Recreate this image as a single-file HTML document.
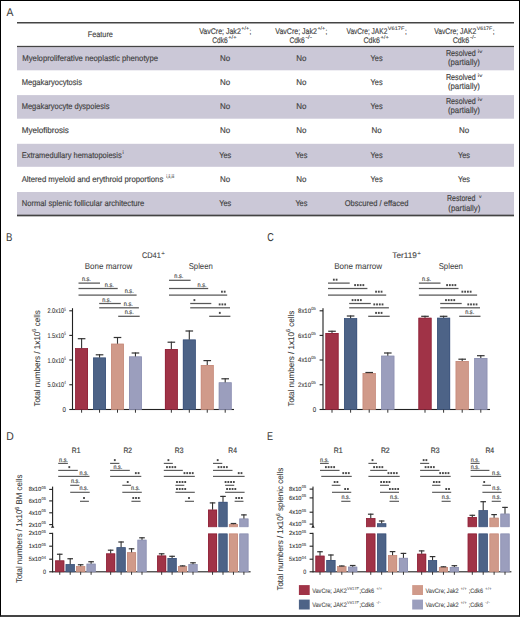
<!DOCTYPE html><html><head><meta charset="utf-8"><style>html,body{margin:0;padding:0;background:#fff;}body{width:520px;height:617px;position:relative;overflow:hidden;}</style></head><body><svg width="520" height="617" viewBox="0 0 520 617" style="position:absolute;left:0;top:0;font-family:'Liberation Sans', sans-serif;text-rendering:geometricPrecision">
<rect x="0.00" y="0.00" width="520.00" height="617.00" fill="#ffffff"/>
<text x="6.50" y="16.00" font-size="11.4" fill="#3a3a3a" stroke="#3a3a3a" stroke-width="0.05" textLength="6.9" lengthAdjust="spacingAndGlyphs">A</text>
<rect x="17.00" y="47.20" width="497.00" height="23.10" fill="#cbc8d7"/>
<rect x="17.00" y="95.10" width="497.00" height="23.60" fill="#cbc8d7"/>
<rect x="17.00" y="143.80" width="497.00" height="23.00" fill="#cbc8d7"/>
<rect x="17.00" y="192.00" width="497.00" height="23.00" fill="#cbc8d7"/>
<rect x="17.00" y="22.00" width="497.00" height="1.50" fill="#444"/>
<rect x="17.00" y="45.85" width="497.00" height="1.30" fill="#444"/>
<rect x="17.00" y="214.65" width="497.00" height="1.70" fill="#444"/>
<text x="87.80" y="36.70" font-size="8.1" fill="#424242" stroke="#424242" stroke-width="0.16" textLength="25.1" lengthAdjust="spacingAndGlyphs">Feature</text>
<text x="199.20" y="33.60" font-size="8.24" fill="#424242" stroke="#424242" stroke-width="0.16" textLength="41.6" lengthAdjust="spacingAndGlyphs">VavCre; Jak2</text>
<text x="241.30" y="30.10" font-size="5.03" fill="#424242" stroke="#424242" stroke-width="0.096" textLength="7.7" lengthAdjust="spacingAndGlyphs">+/+</text>
<text x="249.50" y="33.60" font-size="8.0" fill="#424242" stroke="#424242" stroke-width="0.16" textLength="1.8" lengthAdjust="spacingAndGlyphs">;</text>
<text x="212.30" y="42.90" font-size="8.24" fill="#424242" stroke="#424242" stroke-width="0.16" textLength="15.4" lengthAdjust="spacingAndGlyphs">Cdk6</text>
<text x="228.30" y="39.40" font-size="5.03" fill="#424242" stroke="#424242" stroke-width="0.096" textLength="8.2" lengthAdjust="spacingAndGlyphs">+/+</text>
<text x="275.30" y="33.60" font-size="8.24" fill="#424242" stroke="#424242" stroke-width="0.16" textLength="41.6" lengthAdjust="spacingAndGlyphs">VavCre; Jak2</text>
<text x="317.40" y="30.10" font-size="5.03" fill="#424242" stroke="#424242" stroke-width="0.096" textLength="7.7" lengthAdjust="spacingAndGlyphs">+/+</text>
<text x="325.60" y="33.60" font-size="8.0" fill="#424242" stroke="#424242" stroke-width="0.16" textLength="1.8" lengthAdjust="spacingAndGlyphs">;</text>
<text x="289.40" y="42.90" font-size="8.24" fill="#424242" stroke="#424242" stroke-width="0.16" textLength="15.4" lengthAdjust="spacingAndGlyphs">Cdk6</text>
<text x="305.40" y="39.40" font-size="5.03" fill="#424242" stroke="#424242" stroke-width="0.096" textLength="6.6" lengthAdjust="spacingAndGlyphs">-/-</text>
<text x="346.50" y="33.60" font-size="8.24" fill="#424242" stroke="#424242" stroke-width="0.16" textLength="40.8" lengthAdjust="spacingAndGlyphs">VavCre; JAK2</text>
<text x="387.80" y="30.10" font-size="5.03" fill="#424242" stroke="#424242" stroke-width="0.096" textLength="16.6" lengthAdjust="spacingAndGlyphs">V617F</text>
<text x="404.90" y="33.60" font-size="8.0" fill="#424242" stroke="#424242" stroke-width="0.16" textLength="1.8" lengthAdjust="spacingAndGlyphs">;</text>
<text x="363.50" y="42.90" font-size="8.24" fill="#424242" stroke="#424242" stroke-width="0.16" textLength="16.4" lengthAdjust="spacingAndGlyphs">Cdk6</text>
<text x="380.50" y="39.40" font-size="5.03" fill="#424242" stroke="#424242" stroke-width="0.096" textLength="8.2" lengthAdjust="spacingAndGlyphs">+/+</text>
<text x="434.20" y="33.60" font-size="8.24" fill="#424242" stroke="#424242" stroke-width="0.16" textLength="42.0" lengthAdjust="spacingAndGlyphs">VavCre; JAK2</text>
<text x="476.70" y="30.10" font-size="5.03" fill="#424242" stroke="#424242" stroke-width="0.096" textLength="15.6" lengthAdjust="spacingAndGlyphs">V617F</text>
<text x="492.80" y="33.60" font-size="8.0" fill="#424242" stroke="#424242" stroke-width="0.16" textLength="1.8" lengthAdjust="spacingAndGlyphs">;</text>
<text x="452.70" y="42.90" font-size="8.24" fill="#424242" stroke="#424242" stroke-width="0.16" textLength="16.6" lengthAdjust="spacingAndGlyphs">Cdk6</text>
<text x="469.90" y="39.40" font-size="5.03" fill="#424242" stroke="#424242" stroke-width="0.096" textLength="5.8" lengthAdjust="spacingAndGlyphs">-/-</text>
<text x="22.30" y="60.90" font-size="8.3" fill="#424242" stroke="#424242" stroke-width="0.16" textLength="135.7" lengthAdjust="spacingAndGlyphs">Myeloproliferative neoplastic phenotype</text>
<text x="225.20" y="60.90" font-size="8.3" fill="#424242" stroke="#424242" stroke-width="0.16" text-anchor="middle" textLength="10.2" lengthAdjust="spacingAndGlyphs">No</text>
<text x="301.40" y="60.90" font-size="8.3" fill="#424242" stroke="#424242" stroke-width="0.16" text-anchor="middle" textLength="10.2" lengthAdjust="spacingAndGlyphs">No</text>
<text x="376.60" y="60.90" font-size="8.3" fill="#424242" stroke="#424242" stroke-width="0.16" text-anchor="middle" textLength="12" lengthAdjust="spacingAndGlyphs">Yes</text>
<text x="445.90" y="55.90" font-size="8.6" fill="#424242" stroke="#424242" stroke-width="0.16" textLength="29.9" lengthAdjust="spacingAndGlyphs">Resolved</text>
<text x="477.80" y="52.70" font-size="4.8" fill="#444" stroke="#444" stroke-width="0.1" textLength="4.5" lengthAdjust="spacingAndGlyphs">iv</text>
<text x="447.90" y="65.10" font-size="8.6" fill="#424242" stroke="#424242" stroke-width="0.16" textLength="32" lengthAdjust="spacingAndGlyphs">(partially)</text>
<text x="21.70" y="85.10" font-size="8.3" fill="#424242" stroke="#424242" stroke-width="0.16" textLength="60.3" lengthAdjust="spacingAndGlyphs">Megakaryocytosis</text>
<text x="225.20" y="85.10" font-size="8.3" fill="#424242" stroke="#424242" stroke-width="0.16" text-anchor="middle" textLength="10.2" lengthAdjust="spacingAndGlyphs">No</text>
<text x="301.40" y="85.10" font-size="8.3" fill="#424242" stroke="#424242" stroke-width="0.16" text-anchor="middle" textLength="10.2" lengthAdjust="spacingAndGlyphs">No</text>
<text x="376.60" y="85.10" font-size="8.3" fill="#424242" stroke="#424242" stroke-width="0.16" text-anchor="middle" textLength="12" lengthAdjust="spacingAndGlyphs">Yes</text>
<text x="445.90" y="80.10" font-size="8.6" fill="#424242" stroke="#424242" stroke-width="0.16" textLength="29.9" lengthAdjust="spacingAndGlyphs">Resolved</text>
<text x="477.80" y="76.90" font-size="4.8" fill="#444" stroke="#444" stroke-width="0.1" textLength="4.5" lengthAdjust="spacingAndGlyphs">iv</text>
<text x="447.90" y="89.30" font-size="8.6" fill="#424242" stroke="#424242" stroke-width="0.16" textLength="32" lengthAdjust="spacingAndGlyphs">(partially)</text>
<text x="21.70" y="109.20" font-size="8.3" fill="#424242" stroke="#424242" stroke-width="0.16" textLength="87.7" lengthAdjust="spacingAndGlyphs">Megakaryocyte dyspoiesis</text>
<text x="225.20" y="109.20" font-size="8.3" fill="#424242" stroke="#424242" stroke-width="0.16" text-anchor="middle" textLength="10.2" lengthAdjust="spacingAndGlyphs">No</text>
<text x="301.40" y="109.20" font-size="8.3" fill="#424242" stroke="#424242" stroke-width="0.16" text-anchor="middle" textLength="10.2" lengthAdjust="spacingAndGlyphs">No</text>
<text x="376.60" y="109.20" font-size="8.3" fill="#424242" stroke="#424242" stroke-width="0.16" text-anchor="middle" textLength="12" lengthAdjust="spacingAndGlyphs">Yes</text>
<text x="445.90" y="104.20" font-size="8.6" fill="#424242" stroke="#424242" stroke-width="0.16" textLength="29.9" lengthAdjust="spacingAndGlyphs">Resolved</text>
<text x="477.80" y="101.00" font-size="4.8" fill="#444" stroke="#444" stroke-width="0.1" textLength="4.5" lengthAdjust="spacingAndGlyphs">iv</text>
<text x="447.90" y="113.40" font-size="8.6" fill="#424242" stroke="#424242" stroke-width="0.16" textLength="32" lengthAdjust="spacingAndGlyphs">(partially)</text>
<text x="21.70" y="133.20" font-size="8.3" fill="#424242" stroke="#424242" stroke-width="0.16" textLength="47.1" lengthAdjust="spacingAndGlyphs">Myelofibrosis</text>
<text x="225.20" y="133.20" font-size="8.3" fill="#424242" stroke="#424242" stroke-width="0.16" text-anchor="middle" textLength="10.2" lengthAdjust="spacingAndGlyphs">No</text>
<text x="301.40" y="133.20" font-size="8.3" fill="#424242" stroke="#424242" stroke-width="0.16" text-anchor="middle" textLength="10.2" lengthAdjust="spacingAndGlyphs">No</text>
<text x="376.60" y="133.20" font-size="8.3" fill="#424242" stroke="#424242" stroke-width="0.16" text-anchor="middle" textLength="10.2" lengthAdjust="spacingAndGlyphs">No</text>
<text x="464.00" y="133.20" font-size="8.3" fill="#424242" stroke="#424242" stroke-width="0.16" text-anchor="middle" textLength="10.2" lengthAdjust="spacingAndGlyphs">No</text>
<text x="21.70" y="157.50" font-size="8.3" fill="#424242" stroke="#424242" stroke-width="0.16" textLength="100" lengthAdjust="spacingAndGlyphs">Extramedullary hematopoiesis</text>
<text x="122.40" y="153.90" font-size="4.8" fill="#444" stroke="#444" stroke-width="0.1" textLength="1.2" lengthAdjust="spacingAndGlyphs">i</text>
<text x="225.20" y="157.50" font-size="8.3" fill="#424242" stroke="#424242" stroke-width="0.16" text-anchor="middle" textLength="12" lengthAdjust="spacingAndGlyphs">Yes</text>
<text x="301.40" y="157.50" font-size="8.3" fill="#424242" stroke="#424242" stroke-width="0.16" text-anchor="middle" textLength="12" lengthAdjust="spacingAndGlyphs">Yes</text>
<text x="376.60" y="157.50" font-size="8.3" fill="#424242" stroke="#424242" stroke-width="0.16" text-anchor="middle" textLength="12" lengthAdjust="spacingAndGlyphs">Yes</text>
<text x="464.00" y="157.50" font-size="8.3" fill="#424242" stroke="#424242" stroke-width="0.16" text-anchor="middle" textLength="12" lengthAdjust="spacingAndGlyphs">Yes</text>
<text x="21.70" y="181.90" font-size="8.3" fill="#424242" stroke="#424242" stroke-width="0.16" textLength="141.6" lengthAdjust="spacingAndGlyphs">Altered myeloid and erythroid proportions</text>
<text x="166.30" y="178.00" font-size="4.8" fill="#444" stroke="#444" stroke-width="0.1" textLength="8.0" lengthAdjust="spacingAndGlyphs">i,ii,iii</text>
<text x="225.20" y="181.90" font-size="8.3" fill="#424242" stroke="#424242" stroke-width="0.16" text-anchor="middle" textLength="10.2" lengthAdjust="spacingAndGlyphs">No</text>
<text x="301.40" y="181.90" font-size="8.3" fill="#424242" stroke="#424242" stroke-width="0.16" text-anchor="middle" textLength="10.2" lengthAdjust="spacingAndGlyphs">No</text>
<text x="376.60" y="181.90" font-size="8.3" fill="#424242" stroke="#424242" stroke-width="0.16" text-anchor="middle" textLength="12" lengthAdjust="spacingAndGlyphs">Yes</text>
<text x="464.00" y="181.90" font-size="8.3" fill="#424242" stroke="#424242" stroke-width="0.16" text-anchor="middle" textLength="12" lengthAdjust="spacingAndGlyphs">Yes</text>
<text x="21.70" y="205.80" font-size="8.3" fill="#424242" stroke="#424242" stroke-width="0.16" textLength="122.6" lengthAdjust="spacingAndGlyphs">Normal splenic follicular architecture</text>
<text x="225.20" y="205.80" font-size="8.3" fill="#424242" stroke="#424242" stroke-width="0.16" text-anchor="middle" textLength="12" lengthAdjust="spacingAndGlyphs">Yes</text>
<text x="301.40" y="205.80" font-size="8.3" fill="#424242" stroke="#424242" stroke-width="0.16" text-anchor="middle" textLength="12" lengthAdjust="spacingAndGlyphs">Yes</text>
<text x="344.70" y="205.80" font-size="8.3" fill="#424242" stroke="#424242" stroke-width="0.16" textLength="63.7" lengthAdjust="spacingAndGlyphs">Obscured / effaced</text>
<text x="447.00" y="201.30" font-size="8.6" fill="#424242" stroke="#424242" stroke-width="0.16" textLength="28.4" lengthAdjust="spacingAndGlyphs">Restored</text>
<text x="478.90" y="198.10" font-size="4.8" fill="#444" stroke="#444" stroke-width="0.1" textLength="2.5" lengthAdjust="spacingAndGlyphs">v</text>
<text x="448.30" y="210.50" font-size="8.6" fill="#424242" stroke="#424242" stroke-width="0.16" textLength="32" lengthAdjust="spacingAndGlyphs">(partially)</text>
<text x="6.00" y="241.20" font-size="11.4" fill="#3a3a3a" stroke="#3a3a3a" stroke-width="0.05" textLength="6.4" lengthAdjust="spacingAndGlyphs">B</text>
<text x="141.90" y="257.50" font-size="8.1" fill="#424242" stroke="#424242" stroke-width="0.1" textLength="18.9" lengthAdjust="spacingAndGlyphs">CD41</text>
<text x="161.30" y="254.50" font-size="5.45" fill="#424242" stroke="#424242" stroke-width="0.06" textLength="3.6" lengthAdjust="spacingAndGlyphs">+</text>
<text x="84.80" y="269.40" font-size="8.5" fill="#424242" stroke="#424242" stroke-width="0.05" textLength="47.5" lengthAdjust="spacingAndGlyphs">Bone marrow</text>
<text x="188.70" y="269.40" font-size="8.5" fill="#424242" stroke="#424242" stroke-width="0.05" textLength="24.1" lengthAdjust="spacingAndGlyphs">Spleen</text>
<rect x="71.95" y="308.20" width="1.10" height="101.80" fill="#222"/>
<rect x="69.30" y="310.25" width="3.20" height="1.10" fill="#222"/>
<rect x="69.30" y="334.85" width="3.20" height="1.10" fill="#222"/>
<rect x="69.30" y="359.45" width="3.20" height="1.10" fill="#222"/>
<rect x="69.30" y="384.20" width="3.20" height="1.10" fill="#222"/>
<rect x="69.30" y="408.95" width="3.20" height="1.10" fill="#222"/>
<rect x="72.50" y="408.95" width="161.50" height="1.10" fill="#222"/>
<text x="47.50" y="313.30" font-size="6.98" fill="#333" stroke="#333" stroke-width="0.1" textLength="16.5" lengthAdjust="spacingAndGlyphs">2.0x10</text>
<text x="64.20" y="310.50" font-size="4.61" fill="#333" stroke="#333" stroke-width="0.06" textLength="1.6" lengthAdjust="spacingAndGlyphs">5</text>
<text x="47.50" y="337.90" font-size="6.98" fill="#333" stroke="#333" stroke-width="0.1" textLength="16.5" lengthAdjust="spacingAndGlyphs">1.5x10</text>
<text x="64.20" y="335.10" font-size="4.61" fill="#333" stroke="#333" stroke-width="0.06" textLength="1.6" lengthAdjust="spacingAndGlyphs">5</text>
<text x="47.50" y="362.50" font-size="6.98" fill="#333" stroke="#333" stroke-width="0.1" textLength="16.5" lengthAdjust="spacingAndGlyphs">1.0x10</text>
<text x="64.20" y="359.70" font-size="4.61" fill="#333" stroke="#333" stroke-width="0.06" textLength="1.6" lengthAdjust="spacingAndGlyphs">5</text>
<text x="47.50" y="387.25" font-size="6.98" fill="#333" stroke="#333" stroke-width="0.1" textLength="16.5" lengthAdjust="spacingAndGlyphs">5.0x10</text>
<text x="64.20" y="384.45" font-size="4.61" fill="#333" stroke="#333" stroke-width="0.06" textLength="1.6" lengthAdjust="spacingAndGlyphs">4</text>
<text x="62.50" y="412.00" font-size="6.98" fill="#333" stroke="#333" stroke-width="0.1" textLength="3.4" lengthAdjust="spacingAndGlyphs">0</text>
<text transform="translate(39.6,406.6) rotate(-90)" font-size="8.4" fill="#383838" stroke="#383838" stroke-width="0.08" textLength="96.5" lengthAdjust="spacingAndGlyphs">Total numbers / 1x10<tspan font-size="5.8" dy="-3.2" stroke-width="0.06">6</tspan><tspan dy="3.2"> cells</tspan></text>
<rect x="75.20" y="348.30" width="12.80" height="61.20" fill="#a03347"/>
<rect x="75.55" y="348.65" width="12.10" height="60.85" fill="none" stroke="#8e2238" stroke-width="0.7"/>
<rect x="81.05" y="338.20" width="1.10" height="10.10" fill="#333"/>
<rect x="77.80" y="338.10" width="7.60" height="1.20" fill="#333"/>
<rect x="81.10" y="409.50" width="1.00" height="3.20" fill="#333"/>
<rect x="93.15" y="357.60" width="12.80" height="51.90" fill="#4d6387"/>
<rect x="93.50" y="357.95" width="12.10" height="51.55" fill="none" stroke="#3d547d" stroke-width="0.7"/>
<rect x="99.00" y="354.30" width="1.10" height="3.30" fill="#333"/>
<rect x="95.75" y="354.20" width="7.60" height="1.20" fill="#333"/>
<rect x="99.05" y="409.50" width="1.00" height="3.20" fill="#333"/>
<rect x="111.10" y="343.75" width="12.80" height="65.75" fill="#d09a8a"/>
<rect x="111.45" y="344.10" width="12.10" height="65.40" fill="none" stroke="#c68b7b" stroke-width="0.7"/>
<rect x="116.95" y="337.00" width="1.10" height="6.75" fill="#333"/>
<rect x="113.70" y="336.90" width="7.60" height="1.20" fill="#333"/>
<rect x="117.00" y="409.50" width="1.00" height="3.20" fill="#333"/>
<rect x="129.05" y="356.50" width="12.80" height="53.00" fill="#9b9ebd"/>
<rect x="129.40" y="356.85" width="12.10" height="52.65" fill="none" stroke="#8c90b2" stroke-width="0.7"/>
<rect x="134.90" y="352.50" width="1.10" height="4.00" fill="#333"/>
<rect x="131.65" y="352.40" width="7.60" height="1.20" fill="#333"/>
<rect x="134.95" y="409.50" width="1.00" height="3.20" fill="#333"/>
<rect x="164.95" y="349.10" width="12.80" height="60.40" fill="#a03347"/>
<rect x="165.30" y="349.45" width="12.10" height="60.05" fill="none" stroke="#8e2238" stroke-width="0.7"/>
<rect x="170.80" y="341.70" width="1.10" height="7.40" fill="#333"/>
<rect x="167.55" y="341.60" width="7.60" height="1.20" fill="#333"/>
<rect x="170.85" y="409.50" width="1.00" height="3.20" fill="#333"/>
<rect x="182.90" y="339.60" width="12.80" height="69.90" fill="#4d6387"/>
<rect x="183.25" y="339.95" width="12.10" height="69.55" fill="none" stroke="#3d547d" stroke-width="0.7"/>
<rect x="188.75" y="330.50" width="1.10" height="9.10" fill="#333"/>
<rect x="185.50" y="330.40" width="7.60" height="1.20" fill="#333"/>
<rect x="188.80" y="409.50" width="1.00" height="3.20" fill="#333"/>
<rect x="200.85" y="365.00" width="12.80" height="44.50" fill="#d09a8a"/>
<rect x="201.20" y="365.35" width="12.10" height="44.15" fill="none" stroke="#c68b7b" stroke-width="0.7"/>
<rect x="206.70" y="360.10" width="1.10" height="4.90" fill="#333"/>
<rect x="203.45" y="360.00" width="7.60" height="1.20" fill="#333"/>
<rect x="206.75" y="409.50" width="1.00" height="3.20" fill="#333"/>
<rect x="218.80" y="382.40" width="12.80" height="27.10" fill="#9b9ebd"/>
<rect x="219.15" y="382.75" width="12.10" height="26.75" fill="none" stroke="#8c90b2" stroke-width="0.7"/>
<rect x="224.65" y="378.30" width="1.10" height="4.10" fill="#333"/>
<rect x="221.40" y="378.20" width="7.60" height="1.20" fill="#333"/>
<rect x="224.70" y="409.50" width="1.00" height="3.20" fill="#333"/>
<rect x="78.50" y="282.48" width="21.50" height="1.25" fill="#585858"/>
<text x="86.40" y="281.20" font-size="6.6" fill="#383838" stroke="#383838" stroke-width="0.14" text-anchor="middle" textLength="9" lengthAdjust="spacingAndGlyphs">n.s.</text>
<rect x="78.50" y="287.88" width="39.20" height="1.25" fill="#585858"/>
<text x="109.30" y="286.60" font-size="6.6" fill="#383838" stroke="#383838" stroke-width="0.14" text-anchor="middle" textLength="9" lengthAdjust="spacingAndGlyphs">n.s.</text>
<rect x="78.50" y="294.48" width="58.10" height="1.25" fill="#585858"/>
<text x="129.20" y="293.20" font-size="6.6" fill="#383838" stroke="#383838" stroke-width="0.14" text-anchor="middle" textLength="9" lengthAdjust="spacingAndGlyphs">n.s.</text>
<rect x="99.20" y="302.88" width="21.60" height="1.25" fill="#585858"/>
<text x="106.70" y="301.60" font-size="6.6" fill="#383838" stroke="#383838" stroke-width="0.14" text-anchor="middle" textLength="9" lengthAdjust="spacingAndGlyphs">n.s.</text>
<rect x="99.20" y="307.18" width="39.70" height="1.25" fill="#585858"/>
<text x="128.30" y="305.90" font-size="6.6" fill="#383838" stroke="#383838" stroke-width="0.14" text-anchor="middle" textLength="9" lengthAdjust="spacingAndGlyphs">n.s.</text>
<rect x="118.20" y="315.68" width="21.50" height="1.25" fill="#585858"/>
<text x="129.20" y="314.40" font-size="6.6" fill="#383838" stroke="#383838" stroke-width="0.14" text-anchor="middle" textLength="9" lengthAdjust="spacingAndGlyphs">n.s.</text>
<rect x="169.00" y="279.68" width="21.60" height="1.25" fill="#585858"/>
<text x="178.80" y="278.40" font-size="6.6" fill="#383838" stroke="#383838" stroke-width="0.14" text-anchor="middle" textLength="9" lengthAdjust="spacingAndGlyphs">n.s.</text>
<rect x="169.00" y="287.88" width="39.20" height="1.25" fill="#585858"/>
<text x="202.10" y="286.60" font-size="6.6" fill="#383838" stroke="#383838" stroke-width="0.14" text-anchor="middle" textLength="9" lengthAdjust="spacingAndGlyphs">n.s.</text>
<rect x="169.00" y="294.48" width="58.20" height="1.25" fill="#585858"/>
<rect x="221.03" y="290.70" width="1.80" height="2.00" fill="#4a4a4a"/>
<rect x="223.78" y="290.70" width="1.80" height="2.00" fill="#4a4a4a"/>
<rect x="190.20" y="302.88" width="21.10" height="1.25" fill="#585858"/>
<rect x="193.50" y="299.10" width="1.80" height="2.00" fill="#4a4a4a"/>
<rect x="190.20" y="307.18" width="39.80" height="1.25" fill="#585858"/>
<rect x="218.75" y="303.40" width="1.80" height="2.00" fill="#4a4a4a"/>
<rect x="221.50" y="303.40" width="1.80" height="2.00" fill="#4a4a4a"/>
<rect x="224.25" y="303.40" width="1.80" height="2.00" fill="#4a4a4a"/>
<rect x="209.20" y="315.68" width="21.20" height="1.25" fill="#585858"/>
<rect x="218.90" y="311.90" width="1.80" height="2.00" fill="#4a4a4a"/>
<text x="267.30" y="241.20" font-size="11.4" fill="#3a3a3a" stroke="#3a3a3a" stroke-width="0.05" textLength="6.5" lengthAdjust="spacingAndGlyphs">C</text>
<text x="392.30" y="257.50" font-size="8.1" fill="#424242" stroke="#424242" stroke-width="0.1" textLength="24.5" lengthAdjust="spacingAndGlyphs">Ter119</text>
<text x="417.30" y="254.50" font-size="5.45" fill="#424242" stroke="#424242" stroke-width="0.06" textLength="3.6" lengthAdjust="spacingAndGlyphs">+</text>
<text x="334.20" y="269.40" font-size="8.5" fill="#424242" stroke="#424242" stroke-width="0.05" textLength="48" lengthAdjust="spacingAndGlyphs">Bone marrow</text>
<text x="438.70" y="269.40" font-size="8.5" fill="#424242" stroke="#424242" stroke-width="0.05" textLength="24.2" lengthAdjust="spacingAndGlyphs">Spleen</text>
<rect x="322.45" y="308.20" width="1.10" height="101.80" fill="#222"/>
<rect x="319.60" y="310.25" width="3.40" height="1.10" fill="#222"/>
<rect x="319.60" y="334.85" width="3.40" height="1.10" fill="#222"/>
<rect x="319.60" y="359.45" width="3.40" height="1.10" fill="#222"/>
<rect x="319.60" y="384.20" width="3.40" height="1.10" fill="#222"/>
<rect x="319.60" y="408.95" width="3.40" height="1.10" fill="#222"/>
<rect x="323.00" y="408.95" width="167.00" height="1.10" fill="#222"/>
<text x="298.10" y="313.00" font-size="6.42" fill="#333" stroke="#333" stroke-width="0.1" textLength="12.9" lengthAdjust="spacingAndGlyphs">8x10</text>
<text x="311.20" y="310.20" font-size="4.47" fill="#333" stroke="#333" stroke-width="0.06" textLength="4.6" lengthAdjust="spacingAndGlyphs">05</text>
<text x="298.10" y="337.60" font-size="6.42" fill="#333" stroke="#333" stroke-width="0.1" textLength="12.9" lengthAdjust="spacingAndGlyphs">6x10</text>
<text x="311.20" y="334.80" font-size="4.47" fill="#333" stroke="#333" stroke-width="0.06" textLength="4.6" lengthAdjust="spacingAndGlyphs">05</text>
<text x="298.10" y="362.20" font-size="6.42" fill="#333" stroke="#333" stroke-width="0.1" textLength="12.9" lengthAdjust="spacingAndGlyphs">4x10</text>
<text x="311.20" y="359.40" font-size="4.47" fill="#333" stroke="#333" stroke-width="0.06" textLength="4.6" lengthAdjust="spacingAndGlyphs">05</text>
<text x="298.10" y="386.95" font-size="6.42" fill="#333" stroke="#333" stroke-width="0.1" textLength="12.9" lengthAdjust="spacingAndGlyphs">2x10</text>
<text x="311.20" y="384.15" font-size="4.47" fill="#333" stroke="#333" stroke-width="0.06" textLength="4.6" lengthAdjust="spacingAndGlyphs">05</text>
<text x="312.80" y="412.00" font-size="6.98" fill="#333" stroke="#333" stroke-width="0.1" textLength="3.4" lengthAdjust="spacingAndGlyphs">0</text>
<text transform="translate(293.6,406.6) rotate(-90)" font-size="8.4" fill="#383838" stroke="#383838" stroke-width="0.08" textLength="96.0" lengthAdjust="spacingAndGlyphs">Total numbers / 1x10<tspan font-size="5.8" dy="-3.2" stroke-width="0.06">6</tspan><tspan dy="3.2"> cells</tspan></text>
<rect x="325.50" y="333.00" width="13.00" height="76.50" fill="#a03347"/>
<rect x="325.85" y="333.35" width="12.30" height="76.15" fill="none" stroke="#8e2238" stroke-width="0.7"/>
<rect x="331.45" y="330.75" width="1.10" height="2.25" fill="#333"/>
<rect x="328.20" y="330.65" width="7.60" height="1.20" fill="#333"/>
<rect x="331.50" y="409.50" width="1.00" height="3.20" fill="#333"/>
<rect x="344.10" y="318.25" width="13.00" height="91.25" fill="#4d6387"/>
<rect x="344.45" y="318.60" width="12.30" height="90.90" fill="none" stroke="#3d547d" stroke-width="0.7"/>
<rect x="350.05" y="315.50" width="1.10" height="2.75" fill="#333"/>
<rect x="346.80" y="315.40" width="7.60" height="1.20" fill="#333"/>
<rect x="350.10" y="409.50" width="1.00" height="3.20" fill="#333"/>
<rect x="362.70" y="373.00" width="13.00" height="36.50" fill="#d09a8a"/>
<rect x="363.05" y="373.35" width="12.30" height="36.15" fill="none" stroke="#c68b7b" stroke-width="0.7"/>
<rect x="368.65" y="372.00" width="1.10" height="1.00" fill="#333"/>
<rect x="365.40" y="371.90" width="7.60" height="1.20" fill="#333"/>
<rect x="368.70" y="409.50" width="1.00" height="3.20" fill="#333"/>
<rect x="381.30" y="355.75" width="13.00" height="53.75" fill="#9b9ebd"/>
<rect x="381.65" y="356.10" width="12.30" height="53.40" fill="none" stroke="#8c90b2" stroke-width="0.7"/>
<rect x="387.25" y="352.50" width="1.10" height="3.25" fill="#333"/>
<rect x="384.00" y="352.40" width="7.60" height="1.20" fill="#333"/>
<rect x="387.30" y="409.50" width="1.00" height="3.20" fill="#333"/>
<rect x="418.50" y="317.80" width="13.00" height="91.70" fill="#a03347"/>
<rect x="418.85" y="318.15" width="12.30" height="91.35" fill="none" stroke="#8e2238" stroke-width="0.7"/>
<rect x="424.45" y="315.80" width="1.10" height="2.00" fill="#333"/>
<rect x="421.20" y="315.70" width="7.60" height="1.20" fill="#333"/>
<rect x="424.50" y="409.50" width="1.00" height="3.20" fill="#333"/>
<rect x="437.10" y="317.80" width="13.00" height="91.70" fill="#4d6387"/>
<rect x="437.45" y="318.15" width="12.30" height="91.35" fill="none" stroke="#3d547d" stroke-width="0.7"/>
<rect x="443.05" y="315.80" width="1.10" height="2.00" fill="#333"/>
<rect x="439.80" y="315.70" width="7.60" height="1.20" fill="#333"/>
<rect x="443.10" y="409.50" width="1.00" height="3.20" fill="#333"/>
<rect x="455.70" y="361.00" width="13.00" height="48.50" fill="#d09a8a"/>
<rect x="456.05" y="361.35" width="12.30" height="48.15" fill="none" stroke="#c68b7b" stroke-width="0.7"/>
<rect x="461.65" y="358.70" width="1.10" height="2.30" fill="#333"/>
<rect x="458.40" y="358.60" width="7.60" height="1.20" fill="#333"/>
<rect x="461.70" y="409.50" width="1.00" height="3.20" fill="#333"/>
<rect x="474.30" y="358.00" width="13.00" height="51.50" fill="#9b9ebd"/>
<rect x="474.65" y="358.35" width="12.30" height="51.15" fill="none" stroke="#8c90b2" stroke-width="0.7"/>
<rect x="480.25" y="355.20" width="1.10" height="2.80" fill="#333"/>
<rect x="477.00" y="355.10" width="7.60" height="1.20" fill="#333"/>
<rect x="480.30" y="409.50" width="1.00" height="3.20" fill="#333"/>
<rect x="328.00" y="282.48" width="21.70" height="1.25" fill="#585858"/>
<rect x="332.93" y="278.70" width="1.80" height="2.00" fill="#4a4a4a"/>
<rect x="335.68" y="278.70" width="1.80" height="2.00" fill="#4a4a4a"/>
<rect x="328.00" y="287.88" width="39.40" height="1.25" fill="#585858"/>
<rect x="354.18" y="284.10" width="1.80" height="2.00" fill="#4a4a4a"/>
<rect x="356.93" y="284.10" width="1.80" height="2.00" fill="#4a4a4a"/>
<rect x="359.68" y="284.10" width="1.80" height="2.00" fill="#4a4a4a"/>
<rect x="362.43" y="284.10" width="1.80" height="2.00" fill="#4a4a4a"/>
<rect x="328.00" y="294.48" width="58.20" height="1.25" fill="#585858"/>
<rect x="375.15" y="290.70" width="1.80" height="2.00" fill="#4a4a4a"/>
<rect x="377.90" y="290.70" width="1.80" height="2.00" fill="#4a4a4a"/>
<rect x="380.65" y="290.70" width="1.80" height="2.00" fill="#4a4a4a"/>
<rect x="349.20" y="302.88" width="21.60" height="1.25" fill="#585858"/>
<rect x="351.68" y="299.10" width="1.80" height="2.00" fill="#4a4a4a"/>
<rect x="354.43" y="299.10" width="1.80" height="2.00" fill="#4a4a4a"/>
<rect x="357.18" y="299.10" width="1.80" height="2.00" fill="#4a4a4a"/>
<rect x="359.93" y="299.10" width="1.80" height="2.00" fill="#4a4a4a"/>
<rect x="349.20" y="307.18" width="39.70" height="1.25" fill="#585858"/>
<rect x="373.38" y="303.40" width="1.80" height="2.00" fill="#4a4a4a"/>
<rect x="376.12" y="303.40" width="1.80" height="2.00" fill="#4a4a4a"/>
<rect x="378.88" y="303.40" width="1.80" height="2.00" fill="#4a4a4a"/>
<rect x="381.62" y="303.40" width="1.80" height="2.00" fill="#4a4a4a"/>
<rect x="368.20" y="315.68" width="21.50" height="1.25" fill="#585858"/>
<rect x="375.15" y="311.90" width="1.80" height="2.00" fill="#4a4a4a"/>
<rect x="377.90" y="311.90" width="1.80" height="2.00" fill="#4a4a4a"/>
<rect x="380.65" y="311.90" width="1.80" height="2.00" fill="#4a4a4a"/>
<rect x="418.90" y="282.48" width="21.60" height="1.25" fill="#585858"/>
<text x="426.60" y="281.20" font-size="6.6" fill="#383838" stroke="#383838" stroke-width="0.14" text-anchor="middle" textLength="9" lengthAdjust="spacingAndGlyphs">n.s.</text>
<rect x="418.90" y="287.88" width="39.60" height="1.25" fill="#585858"/>
<rect x="446.18" y="284.10" width="1.80" height="2.00" fill="#4a4a4a"/>
<rect x="448.93" y="284.10" width="1.80" height="2.00" fill="#4a4a4a"/>
<rect x="451.68" y="284.10" width="1.80" height="2.00" fill="#4a4a4a"/>
<rect x="454.43" y="284.10" width="1.80" height="2.00" fill="#4a4a4a"/>
<rect x="418.90" y="294.48" width="58.20" height="1.25" fill="#585858"/>
<rect x="461.48" y="290.70" width="1.80" height="2.00" fill="#4a4a4a"/>
<rect x="464.23" y="290.70" width="1.80" height="2.00" fill="#4a4a4a"/>
<rect x="466.98" y="290.70" width="1.80" height="2.00" fill="#4a4a4a"/>
<rect x="469.73" y="290.70" width="1.80" height="2.00" fill="#4a4a4a"/>
<rect x="440.20" y="302.88" width="21.50" height="1.25" fill="#585858"/>
<rect x="445.08" y="299.10" width="1.80" height="2.00" fill="#4a4a4a"/>
<rect x="447.83" y="299.10" width="1.80" height="2.00" fill="#4a4a4a"/>
<rect x="450.58" y="299.10" width="1.80" height="2.00" fill="#4a4a4a"/>
<rect x="453.33" y="299.10" width="1.80" height="2.00" fill="#4a4a4a"/>
<rect x="440.20" y="307.18" width="39.80" height="1.25" fill="#585858"/>
<rect x="467.38" y="303.40" width="1.80" height="2.00" fill="#4a4a4a"/>
<rect x="470.12" y="303.40" width="1.80" height="2.00" fill="#4a4a4a"/>
<rect x="472.88" y="303.40" width="1.80" height="2.00" fill="#4a4a4a"/>
<rect x="475.62" y="303.40" width="1.80" height="2.00" fill="#4a4a4a"/>
<rect x="459.20" y="315.68" width="21.30" height="1.25" fill="#585858"/>
<text x="469.70" y="314.40" font-size="6.6" fill="#383838" stroke="#383838" stroke-width="0.14" text-anchor="middle" textLength="9" lengthAdjust="spacingAndGlyphs">n.s.</text>
<text x="6.20" y="439.70" font-size="11.4" fill="#3a3a3a" stroke="#3a3a3a" stroke-width="0.05" textLength="7.5" lengthAdjust="spacingAndGlyphs">D</text>
<rect x="52.05" y="486.60" width="1.10" height="40.40" fill="#222"/>
<path d="M50.90,527.8 L52.60,525.0 L54.30,527.8 Z" fill="#222"/>
<rect x="49.20" y="488.85" width="3.40" height="1.10" fill="#222"/>
<text x="28.70" y="491.30" font-size="6.01" fill="#333" stroke="#333" stroke-width="0.1" textLength="12.6" lengthAdjust="spacingAndGlyphs">8x10</text>
<text x="41.50" y="488.70" font-size="4.19" fill="#333" stroke="#333" stroke-width="0.06" textLength="4.4" lengthAdjust="spacingAndGlyphs">05</text>
<rect x="49.20" y="500.35" width="3.40" height="1.10" fill="#222"/>
<text x="28.70" y="502.80" font-size="6.01" fill="#333" stroke="#333" stroke-width="0.1" textLength="12.6" lengthAdjust="spacingAndGlyphs">6x10</text>
<text x="41.50" y="500.20" font-size="4.19" fill="#333" stroke="#333" stroke-width="0.06" textLength="4.4" lengthAdjust="spacingAndGlyphs">05</text>
<rect x="49.20" y="512.25" width="3.40" height="1.10" fill="#222"/>
<text x="28.70" y="514.70" font-size="6.01" fill="#333" stroke="#333" stroke-width="0.1" textLength="12.6" lengthAdjust="spacingAndGlyphs">4x10</text>
<text x="41.50" y="512.10" font-size="4.19" fill="#333" stroke="#333" stroke-width="0.06" textLength="4.4" lengthAdjust="spacingAndGlyphs">05</text>
<rect x="49.20" y="524.05" width="3.40" height="1.10" fill="#222"/>
<text x="28.70" y="526.50" font-size="6.01" fill="#333" stroke="#333" stroke-width="0.1" textLength="12.6" lengthAdjust="spacingAndGlyphs">2x10</text>
<text x="41.50" y="523.90" font-size="4.19" fill="#333" stroke="#333" stroke-width="0.06" textLength="4.4" lengthAdjust="spacingAndGlyphs">05</text>
<rect x="52.05" y="532.80" width="1.10" height="39.60" fill="#222"/>
<rect x="49.20" y="532.85" width="3.40" height="1.10" fill="#222"/>
<text x="28.70" y="535.30" font-size="6.01" fill="#333" stroke="#333" stroke-width="0.1" textLength="12.6" lengthAdjust="spacingAndGlyphs">2x10</text>
<text x="41.50" y="532.70" font-size="4.19" fill="#333" stroke="#333" stroke-width="0.06" textLength="4.4" lengthAdjust="spacingAndGlyphs">05</text>
<rect x="49.20" y="545.65" width="3.40" height="1.10" fill="#222"/>
<text x="28.70" y="548.10" font-size="6.01" fill="#333" stroke="#333" stroke-width="0.1" textLength="12.6" lengthAdjust="spacingAndGlyphs">1x10</text>
<text x="41.50" y="545.50" font-size="4.19" fill="#333" stroke="#333" stroke-width="0.06" textLength="4.4" lengthAdjust="spacingAndGlyphs">05</text>
<rect x="49.20" y="558.65" width="3.40" height="1.10" fill="#222"/>
<text x="28.70" y="561.10" font-size="6.01" fill="#333" stroke="#333" stroke-width="0.1" textLength="12.6" lengthAdjust="spacingAndGlyphs">5x10</text>
<text x="41.50" y="558.50" font-size="4.19" fill="#333" stroke="#333" stroke-width="0.06" textLength="4.4" lengthAdjust="spacingAndGlyphs">04</text>
<rect x="49.20" y="571.25" width="3.40" height="1.10" fill="#222"/>
<text x="42.90" y="574.00" font-size="6.42" fill="#333" stroke="#333" stroke-width="0.1" textLength="3.0" lengthAdjust="spacingAndGlyphs">0</text>
<rect x="52.60" y="571.25" width="198.00" height="1.10" fill="#222"/>
<text transform="translate(21.8,583) rotate(-90)" font-size="8.4" fill="#383838" stroke="#383838" stroke-width="0.08" textLength="108.4" lengthAdjust="spacingAndGlyphs">Total numbers / 1x10<tspan font-size="5.8" dy="-3.2" stroke-width="0.06">6</tspan><tspan dy="3.2"> BM cells</tspan></text>
<text x="71.80" y="452.80" font-size="7.9" fill="#424242" stroke="#424242" stroke-width="0.2" textLength="8.6" lengthAdjust="spacingAndGlyphs">R1</text>
<text x="123.40" y="452.80" font-size="7.9" fill="#424242" stroke="#424242" stroke-width="0.2" textLength="8.6" lengthAdjust="spacingAndGlyphs">R2</text>
<text x="174.80" y="452.80" font-size="7.9" fill="#424242" stroke="#424242" stroke-width="0.2" textLength="8.6" lengthAdjust="spacingAndGlyphs">R3</text>
<text x="228.30" y="452.80" font-size="7.9" fill="#424242" stroke="#424242" stroke-width="0.2" textLength="8.6" lengthAdjust="spacingAndGlyphs">R4</text>
<rect x="55.25" y="560.50" width="9.00" height="11.30" fill="#a03347"/>
<rect x="55.60" y="560.85" width="8.30" height="10.95" fill="none" stroke="#8e2238" stroke-width="0.7"/>
<rect x="59.20" y="553.75" width="1.10" height="6.75" fill="#333"/>
<rect x="56.95" y="553.65" width="5.60" height="1.20" fill="#333"/>
<rect x="59.25" y="571.80" width="1.00" height="3.00" fill="#333"/>
<rect x="65.70" y="564.25" width="9.00" height="7.55" fill="#4d6387"/>
<rect x="66.05" y="564.60" width="8.30" height="7.20" fill="none" stroke="#3d547d" stroke-width="0.7"/>
<rect x="69.65" y="558.25" width="1.10" height="6.00" fill="#333"/>
<rect x="67.40" y="558.15" width="5.60" height="1.20" fill="#333"/>
<rect x="69.70" y="571.80" width="1.00" height="3.00" fill="#333"/>
<rect x="76.15" y="566.25" width="9.00" height="5.55" fill="#d09a8a"/>
<rect x="76.50" y="566.60" width="8.30" height="5.20" fill="none" stroke="#c68b7b" stroke-width="0.7"/>
<rect x="80.10" y="564.25" width="1.10" height="2.00" fill="#333"/>
<rect x="77.85" y="564.15" width="5.60" height="1.20" fill="#333"/>
<rect x="80.15" y="571.80" width="1.00" height="3.00" fill="#333"/>
<rect x="86.60" y="563.75" width="9.00" height="8.05" fill="#9b9ebd"/>
<rect x="86.95" y="564.10" width="8.30" height="7.70" fill="none" stroke="#8c90b2" stroke-width="0.7"/>
<rect x="90.55" y="561.25" width="1.10" height="2.50" fill="#333"/>
<rect x="88.30" y="561.15" width="5.60" height="1.20" fill="#333"/>
<rect x="90.60" y="571.80" width="1.00" height="3.00" fill="#333"/>
<rect x="106.15" y="553.50" width="9.00" height="18.30" fill="#a03347"/>
<rect x="106.50" y="553.85" width="8.30" height="17.95" fill="none" stroke="#8e2238" stroke-width="0.7"/>
<rect x="110.10" y="549.70" width="1.10" height="3.80" fill="#333"/>
<rect x="107.85" y="549.60" width="5.60" height="1.20" fill="#333"/>
<rect x="110.15" y="571.80" width="1.00" height="3.00" fill="#333"/>
<rect x="116.60" y="547.30" width="9.00" height="24.50" fill="#4d6387"/>
<rect x="116.95" y="547.65" width="8.30" height="24.15" fill="none" stroke="#3d547d" stroke-width="0.7"/>
<rect x="120.55" y="541.50" width="1.10" height="5.80" fill="#333"/>
<rect x="118.30" y="541.40" width="5.60" height="1.20" fill="#333"/>
<rect x="120.60" y="571.80" width="1.00" height="3.00" fill="#333"/>
<rect x="127.05" y="552.30" width="9.00" height="19.50" fill="#d09a8a"/>
<rect x="127.40" y="552.65" width="8.30" height="19.15" fill="none" stroke="#c68b7b" stroke-width="0.7"/>
<rect x="131.00" y="548.30" width="1.10" height="4.00" fill="#333"/>
<rect x="128.75" y="548.20" width="5.60" height="1.20" fill="#333"/>
<rect x="131.05" y="571.80" width="1.00" height="3.00" fill="#333"/>
<rect x="137.50" y="539.80" width="9.00" height="32.00" fill="#9b9ebd"/>
<rect x="137.85" y="540.15" width="8.30" height="31.65" fill="none" stroke="#8c90b2" stroke-width="0.7"/>
<rect x="141.45" y="537.30" width="1.10" height="2.50" fill="#333"/>
<rect x="139.20" y="537.20" width="5.60" height="1.20" fill="#333"/>
<rect x="141.50" y="571.80" width="1.00" height="3.00" fill="#333"/>
<rect x="157.15" y="555.60" width="9.00" height="16.20" fill="#a03347"/>
<rect x="157.50" y="555.95" width="8.30" height="15.85" fill="none" stroke="#8e2238" stroke-width="0.7"/>
<rect x="161.10" y="553.30" width="1.10" height="2.30" fill="#333"/>
<rect x="158.85" y="553.20" width="5.60" height="1.20" fill="#333"/>
<rect x="161.15" y="571.80" width="1.00" height="3.00" fill="#333"/>
<rect x="167.60" y="558.00" width="9.00" height="13.80" fill="#4d6387"/>
<rect x="167.95" y="558.35" width="8.30" height="13.45" fill="none" stroke="#3d547d" stroke-width="0.7"/>
<rect x="171.55" y="555.80" width="1.10" height="2.20" fill="#333"/>
<rect x="169.30" y="555.70" width="5.60" height="1.20" fill="#333"/>
<rect x="171.60" y="571.80" width="1.00" height="3.00" fill="#333"/>
<rect x="178.05" y="566.20" width="9.00" height="5.60" fill="#d09a8a"/>
<rect x="178.40" y="566.55" width="8.30" height="5.25" fill="none" stroke="#c68b7b" stroke-width="0.7"/>
<rect x="182.00" y="565.40" width="1.10" height="0.80" fill="#333"/>
<rect x="179.75" y="565.30" width="5.60" height="1.20" fill="#333"/>
<rect x="182.05" y="571.80" width="1.00" height="3.00" fill="#333"/>
<rect x="188.50" y="564.20" width="9.00" height="7.60" fill="#9b9ebd"/>
<rect x="188.85" y="564.55" width="8.30" height="7.25" fill="none" stroke="#8c90b2" stroke-width="0.7"/>
<rect x="192.45" y="562.30" width="1.10" height="1.90" fill="#333"/>
<rect x="190.20" y="562.20" width="5.60" height="1.20" fill="#333"/>
<rect x="192.50" y="571.80" width="1.00" height="3.00" fill="#333"/>
<rect x="208.05" y="533.60" width="9.00" height="38.20" fill="#a03347"/>
<rect x="208.40" y="533.95" width="8.30" height="37.85" fill="none" stroke="#8e2238" stroke-width="0.7"/>
<rect x="208.05" y="509.70" width="9.00" height="17.10" fill="#a03347"/>
<rect x="208.40" y="510.05" width="8.30" height="16.75" fill="none" stroke="#8e2238" stroke-width="0.7"/>
<rect x="212.00" y="502.40" width="1.10" height="7.30" fill="#333"/>
<rect x="209.75" y="502.30" width="5.60" height="1.20" fill="#333"/>
<rect x="212.05" y="571.80" width="1.00" height="3.00" fill="#333"/>
<rect x="218.50" y="533.60" width="9.00" height="38.20" fill="#4d6387"/>
<rect x="218.85" y="533.95" width="8.30" height="37.85" fill="none" stroke="#3d547d" stroke-width="0.7"/>
<rect x="218.50" y="501.90" width="9.00" height="24.90" fill="#4d6387"/>
<rect x="218.85" y="502.25" width="8.30" height="24.55" fill="none" stroke="#3d547d" stroke-width="0.7"/>
<rect x="222.45" y="495.90" width="1.10" height="6.00" fill="#333"/>
<rect x="220.20" y="495.80" width="5.60" height="1.20" fill="#333"/>
<rect x="222.50" y="571.80" width="1.00" height="3.00" fill="#333"/>
<rect x="228.95" y="533.60" width="9.00" height="38.20" fill="#d09a8a"/>
<rect x="229.30" y="533.95" width="8.30" height="37.85" fill="none" stroke="#c68b7b" stroke-width="0.7"/>
<rect x="228.95" y="524.20" width="9.00" height="2.60" fill="#d09a8a"/>
<rect x="229.30" y="524.55" width="8.30" height="2.25" fill="none" stroke="#c68b7b" stroke-width="0.7"/>
<rect x="232.90" y="523.00" width="1.10" height="1.20" fill="#333"/>
<rect x="230.65" y="522.90" width="5.60" height="1.20" fill="#333"/>
<rect x="232.95" y="571.80" width="1.00" height="3.00" fill="#333"/>
<rect x="239.40" y="533.60" width="9.00" height="38.20" fill="#9b9ebd"/>
<rect x="239.75" y="533.95" width="8.30" height="37.85" fill="none" stroke="#8c90b2" stroke-width="0.7"/>
<rect x="239.40" y="518.60" width="9.00" height="8.20" fill="#9b9ebd"/>
<rect x="239.75" y="518.95" width="8.30" height="7.85" fill="none" stroke="#8c90b2" stroke-width="0.7"/>
<rect x="243.35" y="514.40" width="1.10" height="4.20" fill="#333"/>
<rect x="241.10" y="514.30" width="5.60" height="1.20" fill="#333"/>
<rect x="243.40" y="571.80" width="1.00" height="3.00" fill="#333"/>
<rect x="58.20" y="462.82" width="9.70" height="1.15" fill="#585858"/>
<text x="63.50" y="461.50" font-size="6.4" fill="#383838" stroke="#383838" stroke-width="0.14" text-anchor="middle" textLength="8.8" lengthAdjust="spacingAndGlyphs">n.s.</text>
<rect x="58.20" y="469.82" width="19.60" height="1.15" fill="#585858"/>
<rect x="68.40" y="466.10" width="1.80" height="2.00" fill="#4a4a4a"/>
<rect x="58.20" y="475.82" width="31.30" height="1.15" fill="#585858"/>
<text x="84.00" y="474.50" font-size="6.4" fill="#383838" stroke="#383838" stroke-width="0.14" text-anchor="middle" textLength="8.8" lengthAdjust="spacingAndGlyphs">n.s.</text>
<rect x="70.20" y="484.73" width="9.10" height="1.15" fill="#585858"/>
<text x="75.30" y="483.40" font-size="6.4" fill="#383838" stroke="#383838" stroke-width="0.14" text-anchor="middle" textLength="8.8" lengthAdjust="spacingAndGlyphs">n.s.</text>
<rect x="70.20" y="491.73" width="19.50" height="1.15" fill="#585858"/>
<text x="83.90" y="490.40" font-size="6.4" fill="#383838" stroke="#383838" stroke-width="0.14" text-anchor="middle" textLength="8.8" lengthAdjust="spacingAndGlyphs">n.s.</text>
<rect x="80.00" y="500.73" width="8.90" height="1.15" fill="#585858"/>
<rect x="83.10" y="497.00" width="1.80" height="2.00" fill="#4a4a4a"/>
<rect x="110.10" y="462.82" width="9.30" height="1.15" fill="#585858"/>
<rect x="113.90" y="459.10" width="1.80" height="2.00" fill="#4a4a4a"/>
<rect x="110.10" y="469.82" width="19.70" height="1.15" fill="#585858"/>
<text x="117.90" y="468.50" font-size="6.4" fill="#383838" stroke="#383838" stroke-width="0.14" text-anchor="middle" textLength="8.8" lengthAdjust="spacingAndGlyphs">n.s.</text>
<rect x="110.10" y="475.82" width="31.20" height="1.15" fill="#585858"/>
<rect x="134.92" y="472.10" width="1.80" height="2.00" fill="#4a4a4a"/>
<rect x="137.67" y="472.10" width="1.80" height="2.00" fill="#4a4a4a"/>
<rect x="122.30" y="484.73" width="8.80" height="1.15" fill="#585858"/>
<rect x="126.80" y="481.00" width="1.80" height="2.00" fill="#4a4a4a"/>
<rect x="122.30" y="491.73" width="19.50" height="1.15" fill="#585858"/>
<text x="135.50" y="490.40" font-size="6.4" fill="#383838" stroke="#383838" stroke-width="0.14" text-anchor="middle" textLength="8.8" lengthAdjust="spacingAndGlyphs">n.s.</text>
<rect x="131.40" y="500.73" width="9.20" height="1.15" fill="#585858"/>
<rect x="132.35" y="497.00" width="1.80" height="2.00" fill="#4a4a4a"/>
<rect x="135.10" y="497.00" width="1.80" height="2.00" fill="#4a4a4a"/>
<rect x="137.85" y="497.00" width="1.80" height="2.00" fill="#4a4a4a"/>
<rect x="163.80" y="462.82" width="9.00" height="1.15" fill="#585858"/>
<rect x="167.50" y="459.10" width="1.80" height="2.00" fill="#4a4a4a"/>
<rect x="163.80" y="469.82" width="19.00" height="1.15" fill="#585858"/>
<rect x="166.07" y="466.10" width="1.80" height="2.00" fill="#4a4a4a"/>
<rect x="168.82" y="466.10" width="1.80" height="2.00" fill="#4a4a4a"/>
<rect x="171.57" y="466.10" width="1.80" height="2.00" fill="#4a4a4a"/>
<rect x="174.32" y="466.10" width="1.80" height="2.00" fill="#4a4a4a"/>
<rect x="163.80" y="475.82" width="31.00" height="1.15" fill="#585858"/>
<rect x="183.57" y="472.10" width="1.80" height="2.00" fill="#4a4a4a"/>
<rect x="186.32" y="472.10" width="1.80" height="2.00" fill="#4a4a4a"/>
<rect x="189.07" y="472.10" width="1.80" height="2.00" fill="#4a4a4a"/>
<rect x="191.82" y="472.10" width="1.80" height="2.00" fill="#4a4a4a"/>
<rect x="175.40" y="484.73" width="8.90" height="1.15" fill="#585858"/>
<rect x="176.07" y="481.00" width="1.80" height="2.00" fill="#4a4a4a"/>
<rect x="178.82" y="481.00" width="1.80" height="2.00" fill="#4a4a4a"/>
<rect x="181.57" y="481.00" width="1.80" height="2.00" fill="#4a4a4a"/>
<rect x="184.32" y="481.00" width="1.80" height="2.00" fill="#4a4a4a"/>
<rect x="175.40" y="491.73" width="19.40" height="1.15" fill="#585858"/>
<rect x="176.07" y="488.00" width="1.80" height="2.00" fill="#4a4a4a"/>
<rect x="178.82" y="488.00" width="1.80" height="2.00" fill="#4a4a4a"/>
<rect x="181.57" y="488.00" width="1.80" height="2.00" fill="#4a4a4a"/>
<rect x="184.32" y="488.00" width="1.80" height="2.00" fill="#4a4a4a"/>
<rect x="184.90" y="500.73" width="9.10" height="1.15" fill="#585858"/>
<rect x="188.10" y="497.00" width="1.80" height="2.00" fill="#4a4a4a"/>
<rect x="213.00" y="462.82" width="9.30" height="1.15" fill="#585858"/>
<rect x="216.80" y="459.10" width="1.80" height="2.00" fill="#4a4a4a"/>
<rect x="213.00" y="469.82" width="19.50" height="1.15" fill="#585858"/>
<rect x="217.67" y="466.10" width="1.80" height="2.00" fill="#4a4a4a"/>
<rect x="220.42" y="466.10" width="1.80" height="2.00" fill="#4a4a4a"/>
<rect x="223.17" y="466.10" width="1.80" height="2.00" fill="#4a4a4a"/>
<rect x="225.92" y="466.10" width="1.80" height="2.00" fill="#4a4a4a"/>
<rect x="213.00" y="475.82" width="31.60" height="1.15" fill="#585858"/>
<rect x="237.82" y="472.10" width="1.80" height="2.00" fill="#4a4a4a"/>
<rect x="240.57" y="472.10" width="1.80" height="2.00" fill="#4a4a4a"/>
<rect x="225.10" y="484.73" width="9.10" height="1.15" fill="#585858"/>
<rect x="224.67" y="481.00" width="1.80" height="2.00" fill="#4a4a4a"/>
<rect x="227.42" y="481.00" width="1.80" height="2.00" fill="#4a4a4a"/>
<rect x="230.17" y="481.00" width="1.80" height="2.00" fill="#4a4a4a"/>
<rect x="232.92" y="481.00" width="1.80" height="2.00" fill="#4a4a4a"/>
<rect x="225.10" y="491.73" width="19.50" height="1.15" fill="#585858"/>
<rect x="226.17" y="488.00" width="1.80" height="2.00" fill="#4a4a4a"/>
<rect x="228.92" y="488.00" width="1.80" height="2.00" fill="#4a4a4a"/>
<rect x="231.67" y="488.00" width="1.80" height="2.00" fill="#4a4a4a"/>
<rect x="234.42" y="488.00" width="1.80" height="2.00" fill="#4a4a4a"/>
<rect x="234.60" y="500.73" width="8.90" height="1.15" fill="#585858"/>
<rect x="235.35" y="497.00" width="1.80" height="2.00" fill="#4a4a4a"/>
<rect x="238.10" y="497.00" width="1.80" height="2.00" fill="#4a4a4a"/>
<rect x="240.85" y="497.00" width="1.80" height="2.00" fill="#4a4a4a"/>
<text x="266.90" y="439.70" font-size="11.4" fill="#3a3a3a" stroke="#3a3a3a" stroke-width="0.05" textLength="6.0" lengthAdjust="spacingAndGlyphs">E</text>
<rect x="312.45" y="486.60" width="1.10" height="40.40" fill="#222"/>
<path d="M311.30,527.8 L313.00,525.0 L314.70,527.8 Z" fill="#222"/>
<rect x="309.60" y="488.55" width="3.40" height="1.10" fill="#222"/>
<text x="289.00" y="491.00" font-size="6.01" fill="#333" stroke="#333" stroke-width="0.1" textLength="12.6" lengthAdjust="spacingAndGlyphs">8x10</text>
<text x="301.80" y="488.40" font-size="4.19" fill="#333" stroke="#333" stroke-width="0.06" textLength="4.4" lengthAdjust="spacingAndGlyphs">05</text>
<rect x="309.60" y="497.35" width="3.40" height="1.10" fill="#222"/>
<text x="289.00" y="499.80" font-size="6.01" fill="#333" stroke="#333" stroke-width="0.1" textLength="12.6" lengthAdjust="spacingAndGlyphs">6x10</text>
<text x="301.80" y="497.20" font-size="4.19" fill="#333" stroke="#333" stroke-width="0.06" textLength="4.4" lengthAdjust="spacingAndGlyphs">05</text>
<rect x="309.60" y="511.65" width="3.40" height="1.10" fill="#222"/>
<text x="289.00" y="514.10" font-size="6.01" fill="#333" stroke="#333" stroke-width="0.1" textLength="12.6" lengthAdjust="spacingAndGlyphs">4x10</text>
<text x="301.80" y="511.50" font-size="4.19" fill="#333" stroke="#333" stroke-width="0.06" textLength="4.4" lengthAdjust="spacingAndGlyphs">05</text>
<rect x="309.60" y="523.55" width="3.40" height="1.10" fill="#222"/>
<text x="289.00" y="526.00" font-size="6.01" fill="#333" stroke="#333" stroke-width="0.1" textLength="12.6" lengthAdjust="spacingAndGlyphs">4x10</text>
<text x="301.80" y="523.40" font-size="4.19" fill="#333" stroke="#333" stroke-width="0.06" textLength="4.4" lengthAdjust="spacingAndGlyphs">05</text>
<rect x="312.45" y="532.80" width="1.10" height="39.60" fill="#222"/>
<rect x="309.60" y="532.85" width="3.40" height="1.10" fill="#222"/>
<text x="289.00" y="535.30" font-size="6.01" fill="#333" stroke="#333" stroke-width="0.1" textLength="12.6" lengthAdjust="spacingAndGlyphs">2x10</text>
<text x="301.80" y="532.70" font-size="4.19" fill="#333" stroke="#333" stroke-width="0.06" textLength="4.4" lengthAdjust="spacingAndGlyphs">05</text>
<rect x="309.60" y="545.65" width="3.40" height="1.10" fill="#222"/>
<text x="289.00" y="548.10" font-size="6.01" fill="#333" stroke="#333" stroke-width="0.1" textLength="12.6" lengthAdjust="spacingAndGlyphs">1x10</text>
<text x="301.80" y="545.50" font-size="4.19" fill="#333" stroke="#333" stroke-width="0.06" textLength="4.4" lengthAdjust="spacingAndGlyphs">05</text>
<rect x="309.60" y="558.65" width="3.40" height="1.10" fill="#222"/>
<text x="289.00" y="561.10" font-size="6.01" fill="#333" stroke="#333" stroke-width="0.1" textLength="12.6" lengthAdjust="spacingAndGlyphs">5x10</text>
<text x="301.80" y="558.50" font-size="4.19" fill="#333" stroke="#333" stroke-width="0.06" textLength="4.4" lengthAdjust="spacingAndGlyphs">04</text>
<rect x="309.60" y="571.25" width="3.40" height="1.10" fill="#222"/>
<text x="303.20" y="574.00" font-size="6.42" fill="#333" stroke="#333" stroke-width="0.1" textLength="3.0" lengthAdjust="spacingAndGlyphs">0</text>
<rect x="313.00" y="571.25" width="198.40" height="1.10" fill="#222"/>
<text transform="translate(282.8,590.6) rotate(-90)" font-size="8.4" fill="#383838" stroke="#383838" stroke-width="0.08" textLength="122.8" lengthAdjust="spacingAndGlyphs">Total numbers / 1x10<tspan font-size="5.8" dy="-3.2" stroke-width="0.06">6</tspan><tspan dy="3.2"> splenic cells</tspan></text>
<text x="333.75" y="452.80" font-size="7.9" fill="#424242" stroke="#424242" stroke-width="0.2" textLength="8.8" lengthAdjust="spacingAndGlyphs">R1</text>
<text x="380.90" y="452.80" font-size="7.9" fill="#424242" stroke="#424242" stroke-width="0.2" textLength="8.8" lengthAdjust="spacingAndGlyphs">R2</text>
<text x="430.70" y="452.80" font-size="7.9" fill="#424242" stroke="#424242" stroke-width="0.2" textLength="8.8" lengthAdjust="spacingAndGlyphs">R3</text>
<text x="485.40" y="452.80" font-size="7.9" fill="#424242" stroke="#424242" stroke-width="0.2" textLength="8.8" lengthAdjust="spacingAndGlyphs">R4</text>
<rect x="315.50" y="555.75" width="9.00" height="16.05" fill="#a03347"/>
<rect x="315.85" y="556.10" width="8.30" height="15.70" fill="none" stroke="#8e2238" stroke-width="0.7"/>
<rect x="319.45" y="551.25" width="1.10" height="4.50" fill="#333"/>
<rect x="317.20" y="551.15" width="5.60" height="1.20" fill="#333"/>
<rect x="319.50" y="571.80" width="1.00" height="3.00" fill="#333"/>
<rect x="326.40" y="560.00" width="9.00" height="11.80" fill="#4d6387"/>
<rect x="326.75" y="560.35" width="8.30" height="11.45" fill="none" stroke="#3d547d" stroke-width="0.7"/>
<rect x="330.35" y="554.50" width="1.10" height="5.50" fill="#333"/>
<rect x="328.10" y="554.40" width="5.60" height="1.20" fill="#333"/>
<rect x="330.40" y="571.80" width="1.00" height="3.00" fill="#333"/>
<rect x="337.30" y="566.25" width="9.00" height="5.55" fill="#d09a8a"/>
<rect x="337.65" y="566.60" width="8.30" height="5.20" fill="none" stroke="#c68b7b" stroke-width="0.7"/>
<rect x="341.25" y="565.50" width="1.10" height="0.75" fill="#333"/>
<rect x="339.00" y="565.40" width="5.60" height="1.20" fill="#333"/>
<rect x="341.30" y="571.80" width="1.00" height="3.00" fill="#333"/>
<rect x="348.20" y="566.75" width="9.00" height="5.05" fill="#9b9ebd"/>
<rect x="348.55" y="567.10" width="8.30" height="4.70" fill="none" stroke="#8c90b2" stroke-width="0.7"/>
<rect x="352.15" y="565.00" width="1.10" height="1.75" fill="#333"/>
<rect x="349.90" y="564.90" width="5.60" height="1.20" fill="#333"/>
<rect x="352.20" y="571.80" width="1.00" height="3.00" fill="#333"/>
<rect x="417.15" y="553.80" width="9.00" height="18.00" fill="#a03347"/>
<rect x="417.50" y="554.15" width="8.30" height="17.65" fill="none" stroke="#8e2238" stroke-width="0.7"/>
<rect x="421.10" y="550.40" width="1.10" height="3.40" fill="#333"/>
<rect x="418.85" y="550.30" width="5.60" height="1.20" fill="#333"/>
<rect x="421.15" y="571.80" width="1.00" height="3.00" fill="#333"/>
<rect x="428.05" y="560.20" width="9.00" height="11.60" fill="#4d6387"/>
<rect x="428.40" y="560.55" width="8.30" height="11.25" fill="none" stroke="#3d547d" stroke-width="0.7"/>
<rect x="432.00" y="556.10" width="1.10" height="4.10" fill="#333"/>
<rect x="429.75" y="556.00" width="5.60" height="1.20" fill="#333"/>
<rect x="432.05" y="571.80" width="1.00" height="3.00" fill="#333"/>
<rect x="438.95" y="567.00" width="9.00" height="4.80" fill="#d09a8a"/>
<rect x="439.30" y="567.35" width="8.30" height="4.45" fill="none" stroke="#c68b7b" stroke-width="0.7"/>
<rect x="442.90" y="566.30" width="1.10" height="0.70" fill="#333"/>
<rect x="440.65" y="566.20" width="5.60" height="1.20" fill="#333"/>
<rect x="442.95" y="571.80" width="1.00" height="3.00" fill="#333"/>
<rect x="449.85" y="567.00" width="9.00" height="4.80" fill="#9b9ebd"/>
<rect x="450.20" y="567.35" width="8.30" height="4.45" fill="none" stroke="#8c90b2" stroke-width="0.7"/>
<rect x="453.80" y="565.20" width="1.10" height="1.80" fill="#333"/>
<rect x="451.55" y="565.10" width="5.60" height="1.20" fill="#333"/>
<rect x="453.85" y="571.80" width="1.00" height="3.00" fill="#333"/>
<rect x="366.20" y="533.60" width="9.10" height="38.20" fill="#a03347"/>
<rect x="366.55" y="533.95" width="8.40" height="37.85" fill="none" stroke="#8e2238" stroke-width="0.7"/>
<rect x="366.20" y="518.20" width="9.10" height="8.60" fill="#a03347"/>
<rect x="366.55" y="518.55" width="8.40" height="8.25" fill="none" stroke="#8e2238" stroke-width="0.7"/>
<rect x="370.20" y="513.70" width="1.10" height="4.50" fill="#333"/>
<rect x="367.95" y="513.60" width="5.60" height="1.20" fill="#333"/>
<rect x="370.25" y="571.80" width="1.00" height="3.00" fill="#333"/>
<rect x="377.10" y="533.60" width="9.10" height="38.20" fill="#4d6387"/>
<rect x="377.45" y="533.95" width="8.40" height="37.85" fill="none" stroke="#3d547d" stroke-width="0.7"/>
<rect x="377.10" y="523.40" width="9.10" height="3.40" fill="#4d6387"/>
<rect x="377.45" y="523.75" width="8.40" height="3.05" fill="none" stroke="#3d547d" stroke-width="0.7"/>
<rect x="381.10" y="520.50" width="1.10" height="2.90" fill="#333"/>
<rect x="378.85" y="520.40" width="5.60" height="1.20" fill="#333"/>
<rect x="381.15" y="571.80" width="1.00" height="3.00" fill="#333"/>
<rect x="388.00" y="555.20" width="9.10" height="16.60" fill="#d09a8a"/>
<rect x="388.35" y="555.55" width="8.40" height="16.25" fill="none" stroke="#c68b7b" stroke-width="0.7"/>
<rect x="392.00" y="551.10" width="1.10" height="4.10" fill="#333"/>
<rect x="389.75" y="551.00" width="5.60" height="1.20" fill="#333"/>
<rect x="392.05" y="571.80" width="1.00" height="3.00" fill="#333"/>
<rect x="398.90" y="557.90" width="9.10" height="13.90" fill="#9b9ebd"/>
<rect x="399.25" y="558.25" width="8.40" height="13.55" fill="none" stroke="#8c90b2" stroke-width="0.7"/>
<rect x="402.90" y="552.90" width="1.10" height="5.00" fill="#333"/>
<rect x="400.65" y="552.80" width="5.60" height="1.20" fill="#333"/>
<rect x="402.95" y="571.80" width="1.00" height="3.00" fill="#333"/>
<rect x="467.75" y="533.60" width="9.10" height="38.20" fill="#a03347"/>
<rect x="468.10" y="533.95" width="8.40" height="37.85" fill="none" stroke="#8e2238" stroke-width="0.7"/>
<rect x="467.75" y="517.10" width="9.10" height="9.70" fill="#a03347"/>
<rect x="468.10" y="517.45" width="8.40" height="9.35" fill="none" stroke="#8e2238" stroke-width="0.7"/>
<rect x="471.75" y="514.80" width="1.10" height="2.30" fill="#333"/>
<rect x="469.50" y="514.70" width="5.60" height="1.20" fill="#333"/>
<rect x="471.80" y="571.80" width="1.00" height="3.00" fill="#333"/>
<rect x="478.65" y="533.60" width="9.10" height="38.20" fill="#4d6387"/>
<rect x="479.00" y="533.95" width="8.40" height="37.85" fill="none" stroke="#3d547d" stroke-width="0.7"/>
<rect x="478.65" y="510.30" width="9.10" height="16.50" fill="#4d6387"/>
<rect x="479.00" y="510.65" width="8.40" height="16.15" fill="none" stroke="#3d547d" stroke-width="0.7"/>
<rect x="482.65" y="501.20" width="1.10" height="9.10" fill="#333"/>
<rect x="480.40" y="501.10" width="5.60" height="1.20" fill="#333"/>
<rect x="482.70" y="571.80" width="1.00" height="3.00" fill="#333"/>
<rect x="489.55" y="533.60" width="9.10" height="38.20" fill="#d09a8a"/>
<rect x="489.90" y="533.95" width="8.40" height="37.85" fill="none" stroke="#c68b7b" stroke-width="0.7"/>
<rect x="489.55" y="517.80" width="9.10" height="9.00" fill="#d09a8a"/>
<rect x="489.90" y="518.15" width="8.40" height="8.65" fill="none" stroke="#c68b7b" stroke-width="0.7"/>
<rect x="493.55" y="514.10" width="1.10" height="3.70" fill="#333"/>
<rect x="491.30" y="514.00" width="5.60" height="1.20" fill="#333"/>
<rect x="493.60" y="571.80" width="1.00" height="3.00" fill="#333"/>
<rect x="500.45" y="533.60" width="9.10" height="38.20" fill="#9b9ebd"/>
<rect x="500.80" y="533.95" width="8.40" height="37.85" fill="none" stroke="#8c90b2" stroke-width="0.7"/>
<rect x="500.45" y="513.70" width="9.10" height="13.10" fill="#9b9ebd"/>
<rect x="500.80" y="514.05" width="8.40" height="12.75" fill="none" stroke="#8c90b2" stroke-width="0.7"/>
<rect x="504.45" y="506.90" width="1.10" height="6.80" fill="#333"/>
<rect x="502.20" y="506.80" width="5.60" height="1.20" fill="#333"/>
<rect x="504.50" y="571.80" width="1.00" height="3.00" fill="#333"/>
<rect x="320.00" y="462.82" width="8.75" height="1.15" fill="#585858"/>
<text x="324.50" y="461.50" font-size="6.4" fill="#383838" stroke="#383838" stroke-width="0.14" text-anchor="middle" textLength="8.8" lengthAdjust="spacingAndGlyphs">n.s.</text>
<rect x="320.00" y="469.82" width="19.50" height="1.15" fill="#585858"/>
<rect x="324.98" y="466.10" width="1.80" height="2.00" fill="#4a4a4a"/>
<rect x="327.73" y="466.10" width="1.80" height="2.00" fill="#4a4a4a"/>
<rect x="330.48" y="466.10" width="1.80" height="2.00" fill="#4a4a4a"/>
<rect x="333.23" y="466.10" width="1.80" height="2.00" fill="#4a4a4a"/>
<rect x="321.25" y="475.82" width="30.50" height="1.15" fill="#585858"/>
<rect x="342.35" y="472.10" width="1.80" height="2.00" fill="#4a4a4a"/>
<rect x="345.10" y="472.10" width="1.80" height="2.00" fill="#4a4a4a"/>
<rect x="347.85" y="472.10" width="1.80" height="2.00" fill="#4a4a4a"/>
<rect x="331.75" y="484.73" width="8.75" height="1.15" fill="#585858"/>
<rect x="333.73" y="481.00" width="1.80" height="2.00" fill="#4a4a4a"/>
<rect x="336.48" y="481.00" width="1.80" height="2.00" fill="#4a4a4a"/>
<rect x="332.00" y="491.73" width="19.25" height="1.15" fill="#585858"/>
<rect x="344.23" y="488.00" width="1.80" height="2.00" fill="#4a4a4a"/>
<rect x="346.98" y="488.00" width="1.80" height="2.00" fill="#4a4a4a"/>
<rect x="341.25" y="500.73" width="9.25" height="1.15" fill="#585858"/>
<text x="345.90" y="499.40" font-size="6.4" fill="#383838" stroke="#383838" stroke-width="0.14" text-anchor="middle" textLength="8.8" lengthAdjust="spacingAndGlyphs">n.s.</text>
<rect x="368.40" y="462.82" width="8.60" height="1.15" fill="#585858"/>
<rect x="371.60" y="459.10" width="1.80" height="2.00" fill="#4a4a4a"/>
<rect x="370.20" y="469.82" width="17.00" height="1.15" fill="#585858"/>
<rect x="373.18" y="466.10" width="1.80" height="2.00" fill="#4a4a4a"/>
<rect x="375.93" y="466.10" width="1.80" height="2.00" fill="#4a4a4a"/>
<rect x="378.68" y="466.10" width="1.80" height="2.00" fill="#4a4a4a"/>
<rect x="381.43" y="466.10" width="1.80" height="2.00" fill="#4a4a4a"/>
<rect x="368.40" y="475.82" width="31.30" height="1.15" fill="#585858"/>
<rect x="387.58" y="472.10" width="1.80" height="2.00" fill="#4a4a4a"/>
<rect x="390.33" y="472.10" width="1.80" height="2.00" fill="#4a4a4a"/>
<rect x="393.08" y="472.10" width="1.80" height="2.00" fill="#4a4a4a"/>
<rect x="395.83" y="472.10" width="1.80" height="2.00" fill="#4a4a4a"/>
<rect x="380.00" y="484.73" width="9.00" height="1.15" fill="#585858"/>
<rect x="380.28" y="481.00" width="1.80" height="2.00" fill="#4a4a4a"/>
<rect x="383.03" y="481.00" width="1.80" height="2.00" fill="#4a4a4a"/>
<rect x="385.78" y="481.00" width="1.80" height="2.00" fill="#4a4a4a"/>
<rect x="388.53" y="481.00" width="1.80" height="2.00" fill="#4a4a4a"/>
<rect x="380.00" y="491.73" width="19.00" height="1.15" fill="#585858"/>
<rect x="388.98" y="488.00" width="1.80" height="2.00" fill="#4a4a4a"/>
<rect x="391.73" y="488.00" width="1.80" height="2.00" fill="#4a4a4a"/>
<rect x="394.48" y="488.00" width="1.80" height="2.00" fill="#4a4a4a"/>
<rect x="397.23" y="488.00" width="1.80" height="2.00" fill="#4a4a4a"/>
<rect x="389.50" y="500.73" width="9.50" height="1.15" fill="#585858"/>
<text x="394.30" y="499.40" font-size="6.4" fill="#383838" stroke="#383838" stroke-width="0.14" text-anchor="middle" textLength="8.8" lengthAdjust="spacingAndGlyphs">n.s.</text>
<rect x="420.10" y="462.82" width="9.10" height="1.15" fill="#585858"/>
<rect x="422.73" y="459.10" width="1.80" height="2.00" fill="#4a4a4a"/>
<rect x="425.48" y="459.10" width="1.80" height="2.00" fill="#4a4a4a"/>
<rect x="420.10" y="469.82" width="19.30" height="1.15" fill="#585858"/>
<rect x="424.68" y="466.10" width="1.80" height="2.00" fill="#4a4a4a"/>
<rect x="427.43" y="466.10" width="1.80" height="2.00" fill="#4a4a4a"/>
<rect x="430.18" y="466.10" width="1.80" height="2.00" fill="#4a4a4a"/>
<rect x="432.93" y="466.10" width="1.80" height="2.00" fill="#4a4a4a"/>
<rect x="420.10" y="475.82" width="30.60" height="1.15" fill="#585858"/>
<rect x="439.28" y="472.10" width="1.80" height="2.00" fill="#4a4a4a"/>
<rect x="442.03" y="472.10" width="1.80" height="2.00" fill="#4a4a4a"/>
<rect x="444.78" y="472.10" width="1.80" height="2.00" fill="#4a4a4a"/>
<rect x="447.53" y="472.10" width="1.80" height="2.00" fill="#4a4a4a"/>
<rect x="432.10" y="484.73" width="8.40" height="1.15" fill="#585858"/>
<rect x="432.95" y="481.00" width="1.80" height="2.00" fill="#4a4a4a"/>
<rect x="435.70" y="481.00" width="1.80" height="2.00" fill="#4a4a4a"/>
<rect x="438.45" y="481.00" width="1.80" height="2.00" fill="#4a4a4a"/>
<rect x="432.10" y="491.73" width="19.10" height="1.15" fill="#585858"/>
<rect x="445.33" y="488.00" width="1.80" height="2.00" fill="#4a4a4a"/>
<rect x="448.08" y="488.00" width="1.80" height="2.00" fill="#4a4a4a"/>
<rect x="441.60" y="500.73" width="9.10" height="1.15" fill="#585858"/>
<text x="446.20" y="499.40" font-size="6.4" fill="#383838" stroke="#383838" stroke-width="0.14" text-anchor="middle" textLength="8.8" lengthAdjust="spacingAndGlyphs">n.s.</text>
<rect x="470.60" y="462.82" width="9.10" height="1.15" fill="#585858"/>
<text x="475.20" y="461.50" font-size="6.4" fill="#383838" stroke="#383838" stroke-width="0.14" text-anchor="middle" textLength="8.8" lengthAdjust="spacingAndGlyphs">n.s.</text>
<rect x="470.60" y="469.82" width="18.80" height="1.15" fill="#585858"/>
<text x="475.20" y="468.50" font-size="6.4" fill="#383838" stroke="#383838" stroke-width="0.14" text-anchor="middle" textLength="8.8" lengthAdjust="spacingAndGlyphs">n.s.</text>
<rect x="470.60" y="475.82" width="30.60" height="1.15" fill="#585858"/>
<text x="496.50" y="474.50" font-size="6.4" fill="#383838" stroke="#383838" stroke-width="0.14" text-anchor="middle" textLength="8.8" lengthAdjust="spacingAndGlyphs">n.s.</text>
<rect x="482.40" y="484.73" width="8.60" height="1.15" fill="#585858"/>
<rect x="483.30" y="481.00" width="1.80" height="2.00" fill="#4a4a4a"/>
<rect x="482.40" y="491.73" width="19.30" height="1.15" fill="#585858"/>
<text x="496.70" y="490.40" font-size="6.4" fill="#383838" stroke="#383838" stroke-width="0.14" text-anchor="middle" textLength="8.8" lengthAdjust="spacingAndGlyphs">n.s.</text>
<rect x="491.70" y="500.73" width="9.10" height="1.15" fill="#585858"/>
<text x="496.70" y="499.40" font-size="6.4" fill="#383838" stroke="#383838" stroke-width="0.14" text-anchor="middle" textLength="8.8" lengthAdjust="spacingAndGlyphs">n.s.</text>
<rect x="298.90" y="585.10" width="10.80" height="9.90" fill="#a03347"/>
<text x="312.20" y="592.70" font-size="6.56" fill="#424242" stroke="#424242" stroke-width="0.08" textLength="34.6" lengthAdjust="spacingAndGlyphs">VavCre; JAK2</text>
<text x="347.00" y="589.80" font-size="4.3" fill="#555" stroke="#555" stroke-width="0.03" textLength="12.0" lengthAdjust="spacingAndGlyphs">V617F</text>
<text x="359.50" y="592.70" font-size="6.56" fill="#424242" stroke="#424242" stroke-width="0.08" textLength="14.7" lengthAdjust="spacingAndGlyphs">;Cdk6</text>
<text x="376.20" y="589.80" font-size="4.3" fill="#555" stroke="#555" stroke-width="0.03" textLength="5.8" lengthAdjust="spacingAndGlyphs">+/+</text>
<rect x="298.90" y="599.60" width="10.80" height="9.90" fill="#4d6387"/>
<text x="312.20" y="607.20" font-size="6.56" fill="#424242" stroke="#424242" stroke-width="0.08" textLength="34.6" lengthAdjust="spacingAndGlyphs">VavCre; JAK2</text>
<text x="347.00" y="604.30" font-size="4.3" fill="#555" stroke="#555" stroke-width="0.03" textLength="12.0" lengthAdjust="spacingAndGlyphs">V617F</text>
<text x="359.50" y="607.20" font-size="6.56" fill="#424242" stroke="#424242" stroke-width="0.08" textLength="14.7" lengthAdjust="spacingAndGlyphs">;Cdk6</text>
<text x="376.20" y="604.30" font-size="4.3" fill="#555" stroke="#555" stroke-width="0.03" textLength="4.6" lengthAdjust="spacingAndGlyphs">-/-</text>
<rect x="412.20" y="585.10" width="10.80" height="9.90" fill="#d09a8a"/>
<text x="425.50" y="592.70" font-size="6.56" fill="#424242" stroke="#424242" stroke-width="0.08" textLength="33.2" lengthAdjust="spacingAndGlyphs">VavCre; Jak2</text>
<text x="460.50" y="589.80" font-size="4.3" fill="#555" stroke="#555" stroke-width="0.03" textLength="6.5" lengthAdjust="spacingAndGlyphs">+/+</text>
<text x="468.80" y="592.70" font-size="6.56" fill="#424242" stroke="#424242" stroke-width="0.08" textLength="14.2" lengthAdjust="spacingAndGlyphs">;Cdk6</text>
<text x="485.00" y="589.80" font-size="4.3" fill="#555" stroke="#555" stroke-width="0.03" textLength="6.6" lengthAdjust="spacingAndGlyphs">+/+</text>
<rect x="412.20" y="599.60" width="10.80" height="9.90" fill="#9b9ebd"/>
<text x="425.50" y="607.20" font-size="6.56" fill="#424242" stroke="#424242" stroke-width="0.08" textLength="33.2" lengthAdjust="spacingAndGlyphs">VavCre; Jak2</text>
<text x="460.50" y="604.30" font-size="4.3" fill="#555" stroke="#555" stroke-width="0.03" textLength="6.5" lengthAdjust="spacingAndGlyphs">+/+</text>
<text x="468.80" y="607.20" font-size="6.56" fill="#424242" stroke="#424242" stroke-width="0.08" textLength="14.2" lengthAdjust="spacingAndGlyphs">;Cdk6</text>
<text x="485.00" y="604.30" font-size="4.3" fill="#555" stroke="#555" stroke-width="0.03" textLength="5.0" lengthAdjust="spacingAndGlyphs">-/-</text>
</svg><div style="position:absolute;left:0;top:0;width:518px;height:614px;border-top:1px solid #000;border-left:1px solid #000;border-right:1px solid #000;border-bottom:2px solid #444;"></div></body></html>
